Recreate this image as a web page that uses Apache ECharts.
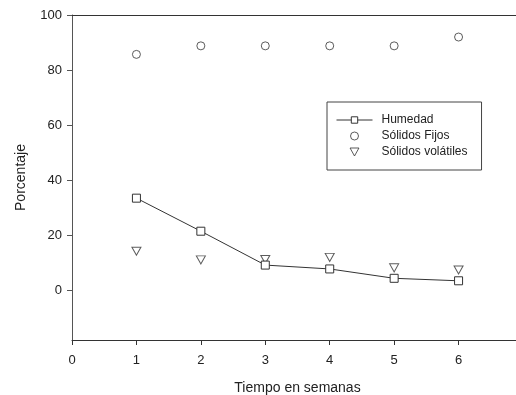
<!DOCTYPE html>
<html>
<head>
<meta charset="utf-8">
<script src="https://cdn.jsdelivr.net/npm/echarts@6/dist/echarts.min.js"></script>
<style>
    html, body { margin: 0; padding: 0; background: #fff; }
    #chart { width: 516px; height: 395px; }
</style>
</head>
<body>
<div id="chart"></div>
<script>
// semanas
var semanas = [1, 2, 3, 4, 5, 6]
var humedad = [33.5, 21.5, 9.2, 7.8, 4.4, 3.5]
var solidosFijos = [85.7, 88.8, 88.8, 88.8, 88.8, 92.0]
var solidosVolatiles = [14.2, 11.1, 11.2, 12.0, 8.2, 7.4]
var yTicks = [0, 20, 40, 60, 80, 100]

function pares(vals){
    return semanas.map(function(s, i){ return [s, vals[i]] })
}

var ejeColor = '#333'
var fuente = 'Liberation Sans, Arial, sans-serif'
var trianguloAbajo = 'path://M0,0 L10,0 L5,9 Z'

var chart = echarts.init(document.getElementById('chart'))
var option = {
    animation: false,
    textStyle: { fontFamily: fuente },
    grid: { left: 72, top: 15, width: 451, height: 325, outerBoundsMode: 'none', containLabel: false },
    legend: {
        orient: 'vertical',
        left: 327,
        top: 102,
        padding: [12, 14, 12, 9],
        itemGap: 4,
        itemWidth: 36,
        itemHeight: 8,
        borderColor: '#444',
        borderWidth: 1,
        lineStyle: { width: 1 },
        itemStyle: { borderWidth: 1 },
        textStyle: { fontSize: 12, color: '#222', fontFamily: fuente, padding: [0, 0, 0, 4] },
        data: ['Humedad', 'Sólidos Fijos', 'Sólidos volátiles']
    },
    xAxis: [{
        type: 'value',
        min: 0,
        max: 7,
        interval: 1,
        name: 'Tiempo en semanas',
        nameLocation: 'middle',
        nameGap: 41,
        nameTextStyle: { fontSize: 14, color: '#222', fontFamily: fuente },
        axisLine: { onZero: false, lineStyle: { color: ejeColor } },
        axisTick: { length: 5, lineStyle: { color: ejeColor } },
        axisLabel: { margin: 14, fontSize: 13, color: '#222',
            formatter: function(v){ return v <= 6 ? v : '' } },
        splitLine: { show: false }
    }, {
        type: 'value',
        position: 'top',
        min: 0,
        max: 7,
        axisLine: { show: true, onZero: false, lineStyle: { color: ejeColor } },
        axisTick: { show: false },
        axisLabel: { show: false },
        splitLine: { show: false }
    }],
    yAxis: {
        type: 'value',
        min: -18,
        max: 100,
        name: 'Porcentaje',
        nameLocation: 'middle',
        nameGap: 44,
        nameTextStyle: { fontSize: 14, color: '#222', fontFamily: fuente },
        axisLine: { show: true, onZero: false, lineStyle: { color: '#555' } },
        axisTick: { show: true, length: 5, customValues: yTicks, lineStyle: { color: '#555' } },
        axisLabel: { margin: 10, fontSize: 13, color: '#222', customValues: yTicks },
        splitLine: { show: false }
    },
    series: [{
        name: 'Humedad',
        type: 'line',
        data: pares(humedad),
        symbol: 'rect',
        symbolSize: 8,
        lineStyle: { color: ejeColor, width: 1 },
        itemStyle: { color: '#fff', borderColor: ejeColor, borderWidth: 1 },
        z: 3
    }, {
        name: 'Sólidos Fijos',
        type: 'scatter',
        data: pares(solidosFijos),
        symbol: 'circle',
        symbolSize: 8,
        itemStyle: { color: '#fff', borderColor: ejeColor, borderWidth: 1 }
    }, {
        name: 'Sólidos volátiles',
        type: 'scatter',
        data: pares(solidosVolatiles),
        symbol: trianguloAbajo,
        symbolSize: [9, 8],
        itemStyle: { color: '#fff', borderColor: ejeColor, borderWidth: 1 }
    }]
}
chart.setOption(option)
</script>
</body>
</html>
